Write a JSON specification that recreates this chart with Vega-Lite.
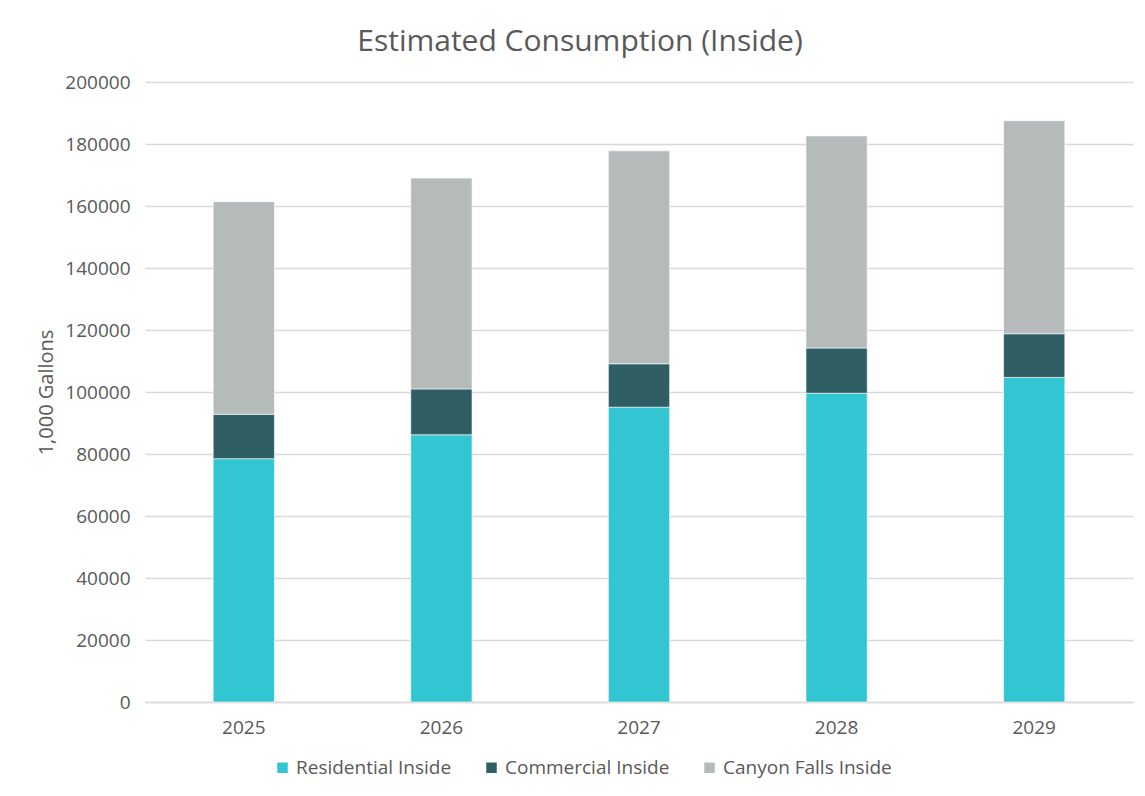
{
  "$schema": "https://vega.github.io/schema/vega-lite/v6.json",
  "width": 988,
  "height": 620,
  "autosize": {"type": "none"},
  "padding": {"left": 145, "top": 82, "right": 12, "bottom": 94},
  "background": "white",
  "title": {
    "text": "Estimated Consumption (Inside)",
    "fontSize": 30,
    "font": "Open Sans",
    "fontWeight": "normal",
    "color": "#595959",
    "anchor": "middle",
    "dx": -59,
    "offset": 16
  },
  "data": {
    "values": [
      {"year": "2025", "series": "Residential Inside", "value": 78500},
      {"year": "2025", "series": "Commercial Inside", "value": 14300},
      {"year": "2025", "series": "Canyon Falls Inside", "value": 68600},
      {"year": "2026", "series": "Residential Inside", "value": 86200},
      {"year": "2026", "series": "Commercial Inside", "value": 14800},
      {"year": "2026", "series": "Canyon Falls Inside", "value": 68000},
      {"year": "2027", "series": "Residential Inside", "value": 95100},
      {"year": "2027", "series": "Commercial Inside", "value": 14000},
      {"year": "2027", "series": "Canyon Falls Inside", "value": 68700},
      {"year": "2028", "series": "Residential Inside", "value": 99600},
      {"year": "2028", "series": "Commercial Inside", "value": 14600},
      {"year": "2028", "series": "Canyon Falls Inside", "value": 68400},
      {"year": "2029", "series": "Residential Inside", "value": 104700},
      {"year": "2029", "series": "Commercial Inside", "value": 14100},
      {"year": "2029", "series": "Canyon Falls Inside", "value": 68700}
    ]
  },
  "mark": {"type": "bar", "stroke": "white", "strokeWidth": 0.6},
  "encoding": {
    "x": {
      "field": "year",
      "type": "ordinal",
      "scale": {"paddingInner": 0.69, "paddingOuter": 0.345},
      "axis": {
        "title": null,
        "labelAngle": 0,
        "labelFont": "Open Sans",
        "labelFontSize": 19,
        "labelColor": "#595959",
        "labelPadding": 16,
        "ticks": false,
        "domainColor": "#d9d9d9",
        "domainWidth": 1.5
      }
    },
    "y": {
      "field": "value",
      "type": "quantitative",
      "aggregate": "sum",
      "stack": "zero",
      "scale": {"domain": [0, 200000], "nice": false},
      "axis": {
        "title": "1,000 Gallons",
        "titleFont": "Open Sans",
        "titleFontSize": 20,
        "titleFontWeight": "normal",
        "titleColor": "#595959",
        "titlePadding": 8,
        "values": [0, 20000, 40000, 60000, 80000, 100000, 120000, 140000, 160000, 180000, 200000],
        "format": "d",
        "labelFont": "Open Sans",
        "labelFontSize": 19,
        "labelColor": "#595959",
        "labelPadding": 15,
        "ticks": false,
        "domain": false,
        "gridColor": "#d9d9d9",
        "gridWidth": 1.5
      }
    },
    "color": {
      "field": "series",
      "type": "nominal",
      "sort": ["Residential Inside", "Commercial Inside", "Canyon Falls Inside"],
      "scale": {
        "domain": ["Residential Inside", "Commercial Inside", "Canyon Falls Inside"],
        "range": ["#32C5D2", "#2F5F64", "#B5BABA"]
      },
      "legend": {
        "title": null,
        "orient": "none",
        "direction": "horizontal",
        "legendX": 128,
        "legendY": 676,
        "symbolType": "square",
        "symbolSize": 110,
        "symbolStrokeWidth": 0,
        "labelFont": "Open Sans",
        "labelFontSize": 19,
        "labelColor": "#595959",
        "labelOffset": 4,
        "labelLimit": 400,
        "columnPadding": 30
      }
    }
  },
  "config": {"view": {"stroke": null}}
}
